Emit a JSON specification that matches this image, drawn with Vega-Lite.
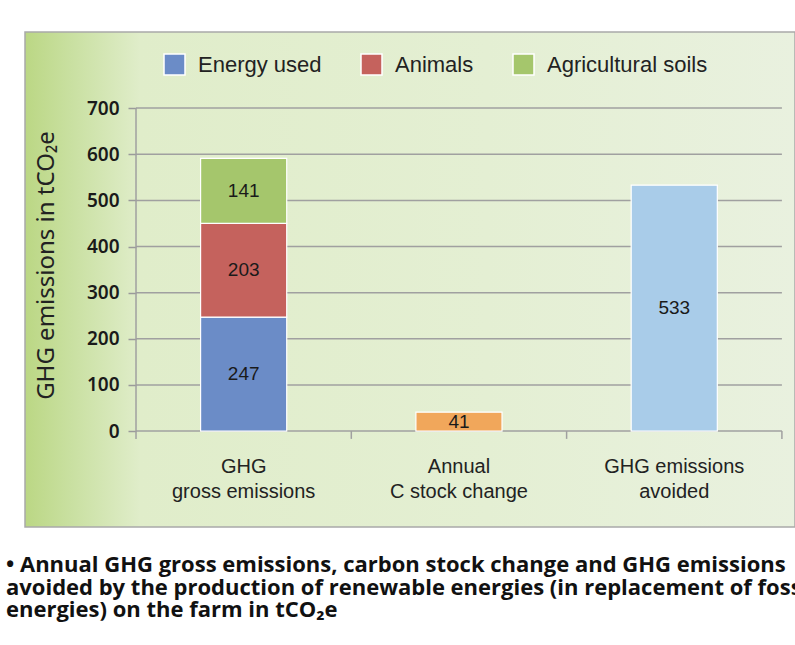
{
  "$schema": "https://vega.github.io/schema/vega-lite/v6.json",
  "width": 770,
  "height": 495,
  "autosize": {"type": "none"},
  "padding": {"left": 25, "top": 32, "right": 0, "bottom": 118},
  "background": "white",
  "title": {
    "text": [
      "• Annual GHG gross emissions, carbon stock change and GHG emissions",
      "avoided by the production of renewable energies (in replacement of fossil",
      "energies) on the farm in tCO₂e"
    ],
    "orient": "bottom",
    "anchor": "start",
    "frame": "group",
    "dx": -19,
    "offset": 28,
    "baseline": "top",
    "font": "Open Sans",
    "fontWeight": "bold",
    "fontSize": 22,
    "lineHeight": 22.5,
    "color": "#111111"
  },
  "config": {
    "view": {
      "fill": {
        "gradient": "linear",
        "x1": 0, "y1": 0, "x2": 1, "y2": 0,
        "stops": [
          {"offset": 0, "color": "#bbd784"},
          {"offset": 0.06, "color": "#c9e0a1"},
          {"offset": 0.15, "color": "#e0edca"},
          {"offset": 0.6, "color": "#e4efd3"},
          {"offset": 1, "color": "#e9f1df"}
        ]
      },
      "stroke": "#a9a9a9",
      "strokeWidth": 1.5
    }
  },
  "data": {
    "values": [
      {"cat": "GHG gross emissions", "comp": "Energy used", "value": 247},
      {"cat": "GHG gross emissions", "comp": "Animals", "value": 203},
      {"cat": "GHG gross emissions", "comp": "Agricultural soils", "value": 141},
      {"cat": "Annual C stock change", "comp": "C stock change", "value": 41},
      {"cat": "GHG emissions avoided", "comp": "Emissions avoided", "value": 533}
    ]
  },
  "layer": [
    {
      "data": {"values": [{"g": 0}, {"g": 100}, {"g": 200}, {"g": 300}, {"g": 400}, {"g": 500}, {"g": 600}, {"g": 700}]},
      "mark": {"type": "rule", "color": "#a0a0a0", "strokeWidth": 1.5},
      "encoding": {
        "y": {"field": "g", "type": "quantitative"},
        "x": {"datum": "GHG gross emissions", "type": "nominal", "bandPosition": 0},
        "x2": {"datum": "GHG emissions avoided", "bandPosition": 1}
      }
    },
    {
      "data": {"values": [{"a": 1}]},
      "mark": {"type": "rule", "color": "#a0a0a0", "strokeWidth": 1.5},
      "encoding": {
        "x": {"datum": "GHG gross emissions", "type": "nominal", "bandPosition": 0},
        "y": {"datum": -17, "type": "quantitative"},
        "y2": {"datum": 700}
      }
    },
    {
      "data": {"values": [{"cat": "Annual C stock change"}, {"cat": "GHG emissions avoided"}]},
      "mark": {"type": "rule", "color": "#a0a0a0", "strokeWidth": 1.5},
      "encoding": {
        "x": {"field": "cat", "type": "nominal", "bandPosition": 0},
        "y": {"datum": -17, "type": "quantitative"},
        "y2": {"datum": 0}
      }
    },
    {
      "data": {"values": [{"a": 1}]},
      "mark": {"type": "rule", "color": "#a0a0a0", "strokeWidth": 1.5},
      "encoding": {
        "x": {"datum": "GHG emissions avoided", "type": "nominal", "bandPosition": 1},
        "y": {"datum": -17, "type": "quantitative"},
        "y2": {"datum": 0}
      }
    },
    {
      "mark": {"type": "bar", "width": {"band": 0.4}, "stroke": "#ffffff", "strokeWidth": 1.2},
      "encoding": {
        "x": {
          "field": "cat",
          "type": "nominal",
          "sort": null,
          "scale": {
            "domain": ["GHG gross emissions", "Annual C stock change", "GHG emissions avoided"],
            "paddingInner": 0,
            "paddingOuter": 0.2882,
            "align": 0.8945
          },
          "axis": {
            "orient": "bottom",
            "offset": -96,
            "title": null,
            "domain": false,
            "ticks": false,
            "labelAngle": 0,
            "labelAlign": "center",
            "labelExpr": "datum.value == 'GHG gross emissions' ? ['GHG', 'gross emissions'] : datum.value == 'Annual C stock change' ? ['Annual', 'C stock change'] : ['GHG emissions', 'avoided']",
            "labelFont": "Liberation Sans",
            "labelFontSize": 20,
            "labelColor": "#222222",
            "labelPadding": 25,
            "labelLineHeight": 25,
            "labelBaseline": "top",
            "labelLimit": 300
          }
        },
        "y": {
          "aggregate": "sum",
          "field": "value",
          "type": "quantitative",
          "stack": "zero",
          "scale": {"domain": [-208, 865], "nice": false, "zero": false},
          "axis": {
            "orient": "left",
            "offset": -111,
            "values": [0, 100, 200, 300, 400, 500, 600, 700],
            "domain": false,
            "grid": false,
            "tickSize": 8,
            "tickColor": "#9a9a9a",
            "tickWidth": 1.5,
            "labelFont": "Noto Sans",
            "labelFontWeight": 600,
            "labelFontSize": 19,
            "labelColor": "#1a1a1a",
            "labelPadding": 9,
            "title": "GHG emissions in tCO₂e",
            "titleFont": "Noto Sans",
            "titleFontSize": 24,
            "titleFontWeight": "normal",
            "titleColor": "#222222",
            "titleX": -83,
            "titleY": 233,
            "titleBaseline": "alphabetic"
          }
        },
        "color": {
          "field": "comp",
          "type": "nominal",
          "scale": {
            "domain": ["Energy used", "Animals", "Agricultural soils", "C stock change", "Emissions avoided"],
            "range": ["#6b8cc7", "#c5625d", "#a5c66c", "#f1a75b", "#a9cce9"]
          },
          "legend": {
            "values": ["Energy used", "Animals", "Agricultural soils"],
            "orient": "none",
            "legendX": 138,
            "legendY": 21,
            "direction": "horizontal",
            "title": null,
            "symbolType": "square",
            "symbolSize": 441,
            "symbolStrokeColor": "#ffffff",
            "symbolStrokeWidth": 1.5,
            "symbolOpacity": 1,
            "labelFont": "Liberation Sans",
            "labelFontSize": 22,
            "labelColor": "#222222",
            "labelOffset": 12,
            "labelLimit": 300,
            "columnPadding": 36
          }
        },
        "order": {"field": "comp", "sort": "descending"}
      }
    },
    {
      "transform": [
        {"stack": "value", "groupby": ["cat"], "sort": [{"field": "comp", "order": "descending"}], "as": ["y0", "y1"]},
        {"fold": ["y0", "y1"], "as": ["edge", "pos"]},
        {"aggregate": [{"op": "mean", "field": "pos", "as": "mid"}], "groupby": ["cat", "comp", "value"]}
      ],
      "mark": {"type": "text", "font": "Liberation Sans", "fontSize": 19, "color": "#1a1a1a", "baseline": "middle"},
      "encoding": {
        "x": {"field": "cat", "type": "nominal"},
        "y": {"field": "mid", "type": "quantitative"},
        "text": {"field": "value", "type": "quantitative"}
      }
    }
  ]
}
